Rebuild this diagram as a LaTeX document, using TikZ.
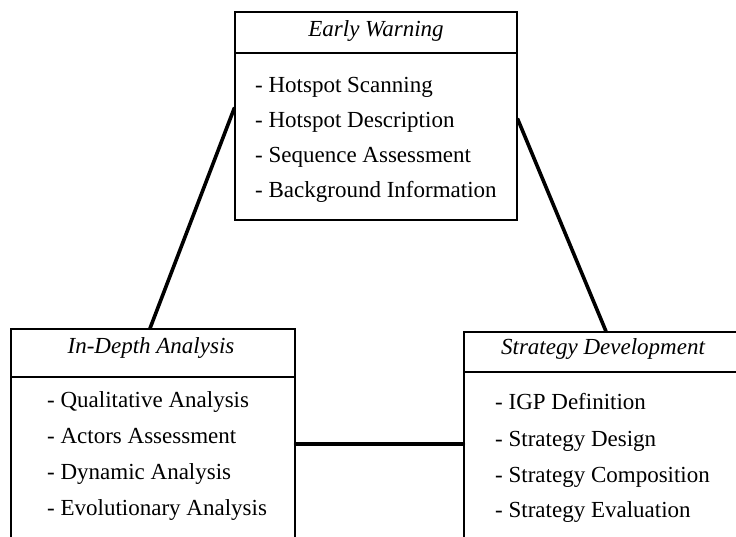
\documentclass[tikz,border=0pt]{standalone}
\usepackage{fontspec}
\setmainfont{Liberation Serif}
\usetikzlibrary{calc}
\tikzset{
  panel/.style={draw=black, line width=1.3pt, rectangle, inner sep=0pt},
  rule/.style={draw=black, line width=1.4pt},
  link/.style={draw=black, line width=3.6pt, line cap=round},
  head/.style={anchor=base, inner sep=0pt, font=\fontsize{23}{27}\selectfont\itshape},
  item/.style={anchor=base west, inner sep=0pt, font=\fontsize{23}{27}\selectfont},
}
\begin{document}
\begin{tikzpicture}[x=1pt, y=-1pt]
  \useasboundingbox[clip] (0,0) rectangle (736,536);
  \fill[white] (0,0) rectangle (736,536);

  % three panels (the lower two run past the page edge)
  \node[panel, minimum width=282pt, minimum height=208pt] (ew) at (376,116) {};
  \node[panel, minimum width=284pt, minimum height=230pt] (ida) at (153,444) {};
  \node[panel, minimum width=284pt, minimum height=230pt] (sd) at (606,447) {};

  % header dividers
  \draw[rule] (ew.west |- 0,53) -- (ew.east |- 0,53);
  \draw[rule] (ida.west |- 0,377) -- (ida.east |- 0,377);
  \draw[rule] (sd.west |- 0,372) -- (sd.east |- 0,372);

  % headers
  \node[head] (ewt) at (376,36) {Early Warning};
  \node[head] (idat) at (151,353) {In-Depth Analysis};
  \node[head] (sdt) at (603,354) {Strategy Development};

  % early warning activities
  \node[item] (ew1) at (255,92) {- Hotspot Scanning};
  \node[item] (ew2) at (255,127) {- Hotspot Description};
  \node[item] (ew3) at (255,162) {- Sequence Assessment};
  \node[item] (ew4) at (255,197) {- Background Information};

  % in-depth analysis activities
  \node[item] (ida1) at (47,407) {- Qualitative Analysis};
  \node[item] (ida2) at (47,443) {- Actors Assessment};
  \node[item] (ida3) at (47,479) {- Dynamic Analysis};
  \node[item] (ida4) at (47,515) {- Evolutionary Analysis};

  % strategy development activities
  \node[item] (sd1) at (495,409) {- IGP Definition};
  \node[item] (sd2) at (495,446) {- Strategy Design};
  \node[item] (sd3) at (495,482) {- Strategy Composition};
  \node[item] (sd4) at (495,517) {- Strategy Evaluation};

  % connectors between the panels
  \coordinate (ewL) at (ew.west |- 0,108);
  \coordinate (ewR) at (ew.east |- 0,119);
  \draw[link] (ewL) -- ($(ida.north)+(-3,0)$);
  \draw[link] (ewR) -- (sd.north);
  \draw[link] (ida.east |- 0,444) -- (sd.west |- 0,444);
\end{tikzpicture}
\end{document}
